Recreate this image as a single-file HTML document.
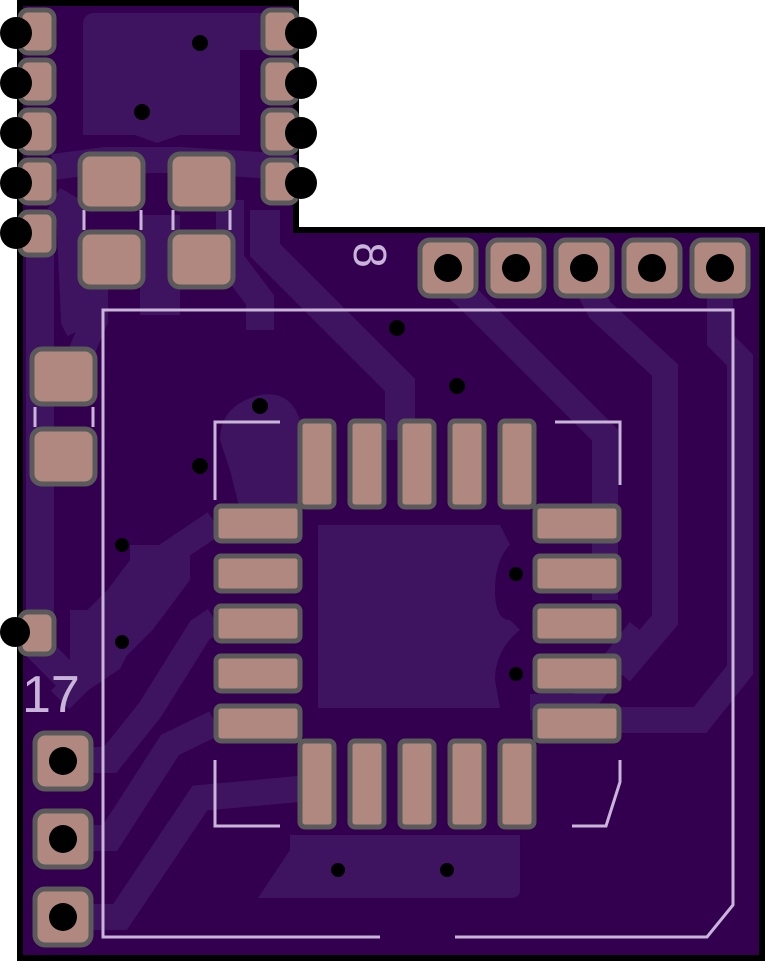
<!DOCTYPE html>
<html><head><meta charset="utf-8"><style>
html,body{margin:0;padding:0;background:#fff;}
svg{display:block}
</style></head><body>
<svg width="765" height="961" viewBox="0 0 765 961" xmlns="http://www.w3.org/2000/svg">
<path d="M20,3 H296 V230 H762 V958 H20 Z" fill="#32004f" stroke="#000" stroke-width="6"/>
<g fill="#3e1460">
<path d="M83,25 Q83,13 95,13 H296 V50 H240 V135 H180 L157,143 L135,135 H83 Z"/>
<path d="M220,440 Q220,405 260,395 Q290,390 300,420 L300,510 L240,510 L230,470 Z"/>
<path d="M318,525 H500 L510,545 Q495,560 495,590 Q495,620 510,620 L520,630 Q495,650 495,680 L500,708 H318 Z"/>
<path d="M290,835 H520 V890 Q520,898 510,898 H258 L290,850 Z"/>
</g>
<g fill="none" stroke="#3e1460">
<polyline points="40,255 40,650 70,680" stroke-width="28"/>
<polyline points="53,167 105,160 180,160 260,165 296,168" stroke-width="26"/>
<polyline points="53,200 70,210 75,320 80,330" stroke-width="28"/>
<polyline points="230,200 230,260 260,300 260,330" stroke-width="28"/>
<polyline points="265,210 265,250 290,275 400,385 400,440" stroke-width="30"/>
<polyline points="448,280 470,300 605,435 605,600" stroke-width="26"/>
<polyline points="584,280 600,310 665,370 665,620 620,673" stroke-width="26"/>
<polyline points="720,280 720,340 740,360 740,670 700,720 600,720" stroke-width="26"/>
<polyline points="95,245 95,320 80,355" stroke-width="26"/>
<polyline points="160,215 160,315" stroke-width="40"/>
<polyline points="60,700 80,680 110,660 160,560 215,523" stroke-width="26"/>
<polyline points="70,640 100,640 130,610 160,570 160,545" stroke-width="60"/>
<polyline points="60,760 110,760 150,710 200,630 215,620" stroke-width="26"/>
<polyline points="60,838 110,838 170,745 215,723" stroke-width="26"/>
<polyline points="60,917 120,917 200,798 310,788" stroke-width="26"/>
<polyline points="530,707 580,707 640,630" stroke-width="26"/>
</g>
<g fill="none" stroke="#c9b5d9" stroke-width="3">
<polyline points="380,937 103,937 103,310 733,310 733,905 707,937 455,937"/>
<polyline points="215,500 215,422 280,422"/>
<polyline points="555,422 620,422 620,485"/>
<polyline points="215,760 215,826 280,826"/>
<polyline points="620,760 620,782 606,826 572,826"/>
<line x1="84" y1="210" x2="84" y2="230"/><line x1="141" y1="210" x2="141" y2="230"/>
<line x1="173" y1="210" x2="173" y2="230"/><line x1="230" y1="210" x2="230" y2="230"/>
<line x1="35" y1="407" x2="35" y2="427"/><line x1="93" y1="407" x2="93" y2="427"/>
</g>
<text x="370" y="255" font-family="Liberation Sans, sans-serif" font-size="46" fill="#c9b5d9" text-anchor="middle" dominant-baseline="central" transform="rotate(90 370 255)">8</text>
<text x="22" y="712" font-family="Liberation Sans, sans-serif" font-size="52" fill="#c9b5d9">17</text>
<g fill="#b08880" stroke="#5a5a5a" stroke-width="5">
<rect x="20" y="10" width="34" height="43" rx="8"/>
<rect x="20" y="60" width="34" height="43" rx="8"/>
<rect x="20" y="110" width="34" height="43" rx="8"/>
<rect x="20" y="160" width="34" height="43" rx="8"/>
<rect x="20" y="212" width="34" height="43" rx="8"/>
<rect x="20" y="612" width="34" height="42" rx="8"/>
<rect x="263" y="10" width="34" height="43" rx="8"/>
<rect x="263" y="60" width="34" height="43" rx="8"/>
<rect x="263" y="110" width="34" height="43" rx="8"/>
<rect x="263" y="160" width="34" height="43" rx="8"/>
<rect x="80" y="154" width="63" height="55" rx="10"/>
<rect x="170" y="154" width="63" height="55" rx="10"/>
<rect x="80" y="232" width="63" height="55" rx="10"/>
<rect x="170" y="232" width="63" height="55" rx="10"/>
<rect x="32" y="349" width="63" height="55" rx="10"/>
<rect x="32" y="429" width="63" height="55" rx="10"/>
<rect x="420" y="240" width="56" height="56" rx="10"/>
<rect x="488" y="240" width="56" height="56" rx="10"/>
<rect x="556" y="240" width="56" height="56" rx="10"/>
<rect x="624" y="240" width="56" height="56" rx="10"/>
<rect x="692" y="240" width="56" height="56" rx="10"/>
<rect x="35" y="733" width="56" height="56" rx="10"/>
<rect x="35" y="811" width="56" height="56" rx="10"/>
<rect x="35" y="889" width="56" height="56" rx="10"/>
<rect x="300" y="421" width="34" height="86" rx="5"/>
<rect x="350" y="421" width="34" height="86" rx="5"/>
<rect x="400" y="421" width="34" height="86" rx="5"/>
<rect x="450" y="421" width="34" height="86" rx="5"/>
<rect x="500" y="421" width="34" height="86" rx="5"/>
<rect x="300" y="741" width="34" height="86" rx="5"/>
<rect x="350" y="741" width="34" height="86" rx="5"/>
<rect x="400" y="741" width="34" height="86" rx="5"/>
<rect x="450" y="741" width="34" height="86" rx="5"/>
<rect x="500" y="741" width="34" height="86" rx="5"/>
<rect x="216" y="506" width="84" height="35" rx="5"/>
<rect x="216" y="556" width="84" height="35" rx="5"/>
<rect x="216" y="606" width="84" height="35" rx="5"/>
<rect x="216" y="656" width="84" height="35" rx="5"/>
<rect x="216" y="706" width="84" height="35" rx="5"/>
<rect x="535" y="506" width="84" height="35" rx="5"/>
<rect x="535" y="556" width="84" height="35" rx="5"/>
<rect x="535" y="606" width="84" height="35" rx="5"/>
<rect x="535" y="656" width="84" height="35" rx="5"/>
<rect x="535" y="706" width="84" height="35" rx="5"/>
</g>
<g fill="#000">
<circle cx="16" cy="33" r="16"/><circle cx="16" cy="83" r="16"/><circle cx="16" cy="133" r="16"/><circle cx="16" cy="183" r="16"/><circle cx="16" cy="233" r="16"/>
<circle cx="15" cy="632" r="15"/>
<circle cx="301" cy="33" r="16"/><circle cx="301" cy="83" r="16"/><circle cx="301" cy="133" r="16"/><circle cx="301" cy="183" r="16"/>
<circle cx="448" cy="268" r="14"/><circle cx="516" cy="268" r="14"/><circle cx="584" cy="268" r="14"/><circle cx="652" cy="268" r="14"/><circle cx="720" cy="268" r="14"/>
<circle cx="63" cy="761" r="14"/><circle cx="63" cy="839" r="14"/><circle cx="63" cy="917" r="14"/>
<circle cx="200" cy="43" r="8"/><circle cx="142" cy="112" r="8"/><circle cx="397" cy="328" r="8"/><circle cx="457" cy="386" r="8"/>
<circle cx="260" cy="406" r="8"/><circle cx="200" cy="466" r="8"/><circle cx="122" cy="545" r="7"/><circle cx="122" cy="642" r="7"/>
<circle cx="516" cy="574" r="7"/><circle cx="516" cy="674" r="7"/><circle cx="338" cy="870" r="7"/><circle cx="447" cy="870" r="7"/>
</g>
</svg>
</body></html>
